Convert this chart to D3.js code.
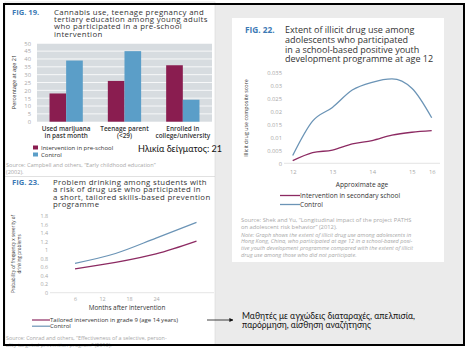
<!DOCTYPE html>
<html>
<head>
<meta charset="utf-8">
<script src="https://cdn.jsdelivr.net/npm/d3@7"></script>
<style>
  body { margin: 0; background: #fff; }
  svg text { font-family: "Open Sans", sans-serif; }
</style>
</head>
<body>
<svg id="vis" width="468" height="352"></svg>
<script>
// Fig 19 data: percentage at age 21
var fig19Categories = [["Used marijuana", "in past month"], ["Teenage parent", "(<29)"], ["Enrolled in", "college/university"]];
var fig19Series = ["Intervention in pre-school", "Control"];
var fig19Intervention = [18, 26, 36];
var fig19Control = [39, 45, 14];
var fig19Ticks = [0, 5, 10, 15, 20, 25, 30, 35, 40, 45, 50];

// Fig 22 data: illicit drug use composite score by approximate age
var fig22Points = [0, 1, 2, 3, 4, 5, 6, 7];
var fig22TickLabels = {0: "12", 2: "13", 4: "14", 6: "15", 7: "16"};
var fig22Intervention = [0.001, 0.0041, 0.0051, 0.0075, 0.0088, 0.0109, 0.012, 0.0126];
var fig22Control = [0.003, 0.0163, 0.0216, 0.0283, 0.0313, 0.0326, 0.029, 0.0176];
var fig22Ticks = [0, 0.005, 0.01, 0.015, 0.02, 0.025, 0.03, 0.035];

// Fig 23 data: probability of frequency x severity of drinking problems
var fig23Months = [6, 15, 24, 33];
var fig23TickMonths = [6, 12, 18, 24];
var fig23Intervention = [0.56, 0.71, 0.91, 1.21];
var fig23Control = [0.69, 0.92, 1.28, 1.65];
var fig23Ticks = [0, 0.2, 0.4, 0.6, 0.8, 1, 1.2, 1.4, 1.6, 1.8];

var maroon = "#8a1d50";
var blue = "#5b9ec8";
var steel = "#6b94b6";
var lineMaroon = "#8c2a62";
var figBlue = "#3d7ab5";
var lightText = "#a8a8a8";

var svg = d3.select("#vis");

// gray slide area and white panels
svg.append("rect").attr("x", 4).attr("y", 4).attr("width", 460).attr("height", 341)
  .attr("fill", "#ebebeb");
svg.append("rect").attr("x", 5).attr("y", 2).attr("width", 210).attr("height", 343)
  .attr("fill", "#fff").attr("stroke", "#d8d8d8").attr("stroke-width", 0.6);
svg.append("rect").attr("x", 232).attr("y", 18).attr("width", 212).attr("height", 244)
  .attr("fill", "#fff");

// write several lines of text
function lines(g, arr, x, y, step, attrs) {
  var t = g.append("text").attr("x", x).attr("y", y);
  Object.keys(attrs).forEach(function(k) { t.style(k, attrs[k]); });
  arr.forEach(function(s, i) {
    t.append("tspan").attr("x", x).attr("dy", i === 0 ? 0 : step).text(s);
  });
  return t;
}

// ---------- FIG 19 ----------
var g19 = svg.append("g");
g19.append("text").attr("x", 12).attr("y", 15).text("FIG. 19.")
  .style("font-size", "7.6px").style("font-weight", "bold").style("fill", figBlue);
lines(g19, ["Cannabis use, teenage pregnancy and", "tertiary education among young adults",
  "who participated in a pre-school", "intervention"], 54, 14.8, 7.3,
  {"font-size": "7.8px", "fill": "#333", "letter-spacing": "0.35px"});

var x19 = d3.scaleBand().domain(d3.range(fig19Categories.length)).range([37, 212]);
var xs19 = d3.scaleBand().domain(fig19Series).range([12.5, 45.8]);
var y19 = d3.scaleLinear().domain([0, 50]).range([121.7, 43.3]);

g19.append("rect").attr("x", 37).attr("y", y19(50)).attr("width", 175)
  .attr("height", y19(0) - y19(50)).attr("fill", "#d7dce0");
g19.selectAll(".grid19").data(fig19Ticks.slice(1)).enter().append("line")
  .attr("x1", 37).attr("x2", 212)
  .attr("y1", function(d) { return y19(d); }).attr("y2", function(d) { return y19(d); })
  .attr("stroke", "#fff").attr("stroke-width", 0.8);

var yAxis19 = g19.append("g").attr("transform", "translate(37,0)")
  .call(d3.axisLeft(y19).tickValues(fig19Ticks).tickSize(0).tickPadding(6));
yAxis19.select(".domain").remove();
yAxis19.selectAll("text").style("font-size", "5.8px").style("fill", lightText);

var bars19 = [];
fig19Categories.forEach(function(c, i) {
  bars19.push({cat: i, series: fig19Series[0], val: fig19Intervention[i], color: maroon});
  bars19.push({cat: i, series: fig19Series[1], val: fig19Control[i], color: blue});
});
g19.selectAll(".bar19").data(bars19).enter().append("rect")
  .attr("x", function(d) { return x19(d.cat) + xs19(d.series); })
  .attr("width", xs19.bandwidth())
  .attr("y", function(d) { return y19(d.val); })
  .attr("height", function(d) { return y19(0) - y19(d.val); })
  .attr("fill", function(d) { return d.color; });

fig19Categories.forEach(function(c, i) {
  var cx = x19(i) + x19.bandwidth() / 2;
  lines(g19, c, cx, 131, 6.8, {"font-size": "6.4px", "fill": "#333", "font-weight": "600", "text-anchor": "middle"});
});

g19.append("text").attr("transform", "translate(16,82) rotate(-90)")
  .attr("text-anchor", "middle").text("Percentage at age 21")
  .style("font-size", "5.6px").style("fill", "#333");

fig19Series.forEach(function(s, i) {
  g19.append("rect").attr("x", 33).attr("y", 145.5 + i * 7).attr("width", 5).attr("height", 4)
    .attr("fill", i === 0 ? maroon : blue);
  g19.append("text").attr("x", 41).attr("y", 150 + i * 7).text(s)
    .style("font-size", "6px").style("fill", "#333");
});

g19.append("text").attr("x", 138).attr("y", 151.5).text("Ηλικία δείγματος: 21")
  .attr("textLength", 84).attr("lengthAdjust", "spacingAndGlyphs")
  .style("font-family", "Lato, sans-serif").style("font-size", "9.6px").style("fill", "#111");

lines(g19, ["Source: Campbell and others, \u201cEarly childhood education\u201d", "(2002)."], 6, 167, 7,
  {"font-size": "5.6px", "fill": lightText});
g19.append("line").attr("x1", 5).attr("x2", 215).attr("y1", 176.5).attr("y2", 176.5)
  .attr("stroke", "#ccc").attr("stroke-width", 0.6);

// ---------- FIG 22 ----------
var g22 = svg.append("g");
g22.append("text").attr("x", 245).attr("y", 33).text("FIG. 22.")
  .style("font-size", "8.3px").style("font-weight", "bold").style("fill", figBlue);
lines(g22, ["Extent of illicit drug use among", "adolescents who participated",
  "in a school-based positive youth", "development programme at age 12"], 285, 33, 9.8,
  {"font-size": "9px", "fill": "#333"});

var x22 = d3.scalePoint().domain(fig22Points).range([292.7, 431.7]);
var y22 = d3.scaleLinear().domain([0, 0.035]).range([163.3, 72.7]);

var yAxis22 = g22.append("g").attr("transform", "translate(284,0)")
  .call(d3.axisLeft(y22).tickValues(fig22Ticks).tickSize(0).tickPadding(2)
    .tickFormat(function(d) { return d3.format("~g")(d); }));
yAxis22.select(".domain").remove();
yAxis22.selectAll("text").style("font-size", "5.8px").style("fill", lightText);

g22.append("line").attr("x1", 284).attr("x2", 440).attr("y1", y22(0)).attr("y2", y22(0))
  .attr("stroke", "#ddd").attr("stroke-width", 0.8);

var xAxis22 = g22.append("g").attr("transform", "translate(0," + y22(0) + ")")
  .call(d3.axisBottom(x22).tickValues(Object.keys(fig22TickLabels).map(Number)).tickSize(0).tickPadding(7)
    .tickFormat(function(d) { return fig22TickLabels[d]; }));
xAxis22.select(".domain").remove();
xAxis22.selectAll("text").style("font-size", "5.8px").style("fill", lightText);

var line22 = d3.line()
  .x(function(d, i) { return x22(fig22Points[i]); })
  .y(function(d) { return y22(d); })
  .curve(d3.curveMonotoneX);
g22.append("path").datum(fig22Control).attr("d", line22)
  .attr("fill", "none").attr("stroke", steel).attr("stroke-width", 1.3);
g22.append("path").datum(fig22Intervention).attr("d", line22)
  .attr("fill", "none").attr("stroke", lineMaroon).attr("stroke-width", 1.3);

g22.append("text").attr("transform", "translate(248,118) rotate(-90)")
  .attr("text-anchor", "middle").text("Illicit drug use composite score")
  .style("font-size", "5.4px").style("fill", "#333");
g22.append("text").attr("x", 362).attr("y", 186.5).attr("text-anchor", "middle")
  .text("Approximate age").style("font-size", "6.6px").style("fill", "#333");

[["Intervention in secondary school", lineMaroon], ["Control", steel]].forEach(function(d, i) {
  var yy = 195.5 + i * 9;
  g22.append("line").attr("x1", 280).attr("x2", 300).attr("y1", yy).attr("y2", yy)
    .attr("stroke", d[1]).attr("stroke-width", 1.3);
  g22.append("text").attr("x", 300).attr("y", yy + 2.2).text(d[0])
    .style("font-size", "6.6px").style("fill", "#333");
});

lines(g22, ["Source: Shek and Yu, \u201cLongitudinal impact of the project PATHS",
  "on adolescent risk behavior\u201d (2012)."], 241, 221.5, 7, {"font-size": "5.8px", "fill": lightText});
lines(g22, ["Note: Graph shows the extent of illicit drug use among adolescents in",
  "Hong Kong, China, who participated at age 12 in a school-based posi-",
  "tive youth development programme compared with the extent of illicit",
  "drug use among those who did not participate."], 241, 236.5, 6.8,
  {"font-size": "5.6px", "fill": lightText, "font-style": "italic"});

// ---------- FIG 23 ----------
var g23 = svg.append("g");
g23.append("text").attr("x", 12).attr("y", 185).text("FIG. 23.")
  .style("font-size", "7.6px").style("font-weight", "bold").style("fill", figBlue);
lines(g23, ["Problem drinking among students with", "a risk of drug use who participated in",
  "a short, tailored skills-based prevention", "programme"], 53, 185, 7.3,
  {"font-size": "7.8px", "fill": "#333", "letter-spacing": "0.35px"});

var x23 = d3.scaleLinear().domain([0, 36]).range([48, 210]);
var y23 = d3.scaleLinear().domain([0, 1.8]).range([292.7, 216]);

var yAxis23 = g23.append("g").attr("transform", "translate(50,0)")
  .call(d3.axisLeft(y23).tickValues(fig23Ticks).tickSize(0).tickPadding(2)
    .tickFormat(function(d) { return d3.format("~g")(d); }));
yAxis23.select(".domain").remove();
yAxis23.selectAll("text").style("font-size", "5.4px").style("fill", lightText);

g23.append("line").attr("x1", 50).attr("x2", 214).attr("y1", y23(0)).attr("y2", y23(0))
  .attr("stroke", "#ddd").attr("stroke-width", 0.8);

var xAxis23 = g23.append("g").attr("transform", "translate(0," + y23(0) + ")")
  .call(d3.axisBottom(x23).tickValues(fig23TickMonths).tickSize(0).tickPadding(4));
xAxis23.select(".domain").remove();
xAxis23.selectAll("text").style("font-size", "5.4px").style("fill", lightText);

var line23 = d3.line()
  .x(function(d, i) { return x23(fig23Months[i]); })
  .y(function(d) { return y23(d); })
  .curve(d3.curveMonotoneX);
g23.append("path").datum(fig23Control).attr("d", line23)
  .attr("fill", "none").attr("stroke", steel).attr("stroke-width", 1.2);
g23.append("path").datum(fig23Intervention).attr("d", line23)
  .attr("fill", "none").attr("stroke", lineMaroon).attr("stroke-width", 1.2);

lines(g23, ["Probability of frequency x severity of", "drinking problems"], 0, 0, 6,
  {"font-size": "4.6px", "fill": "#333", "text-anchor": "middle"})
  .attr("transform", "translate(15,254) rotate(-90)");

g23.append("text").attr("x", 127).attr("y", 310).attr("text-anchor", "middle")
  .text("Months after intervention").style("font-size", "6.4px").style("fill", "#333");

[["Tailored intervention in grade 9 (age 14 years)", lineMaroon], ["Control", steel]].forEach(function(d, i) {
  var yy = 320 + i * 6.2;
  g23.append("line").attr("x1", 32).attr("x2", 50).attr("y1", yy).attr("y2", yy)
    .attr("stroke", d[1]).attr("stroke-width", 1.2);
  g23.append("text").attr("x", 50).attr("y", yy + 2).text(d[0])
    .style("font-size", "6px").style("fill", "#333");
});

lines(g23, ["Source: Conrad and others, \u201cEffectiveness of a selective, person-",
  "ality-targeted prevention program\u201d (2013)."], 6, 340, 6.5,
  {"font-size": "5.4px", "fill": lightText});

// arrow to the note
svg.append("defs").append("marker").attr("id", "arr").attr("viewBox", "0 0 10 10")
  .attr("refX", 9).attr("refY", 5).attr("markerWidth", 5).attr("markerHeight", 5)
  .attr("orient", "auto")
  .append("path").attr("d", "M0,0L10,5L0,10z").attr("fill", "#111");
svg.append("line").attr("x1", 207).attr("x2", 233).attr("y1", 320).attr("y2", 320)
  .attr("stroke", "#111").attr("stroke-width", 0.8).attr("marker-end", "url(#arr)");

var note = lines(svg, ["Μαθητές με αγχώδεις διαταραχές, απελπισία,", "παρόρμηση, αίσθηση αναζήτησης"], 242, 318.5, 9.5,
  {"font-family": "Lato, sans-serif", "font-size": "9px", "fill": "#111"});
note.selectAll("tspan").attr("textLength", function(d, i) { return i === 0 ? 173 : 129; })
  .attr("lengthAdjust", "spacingAndGlyphs");

// frame on top
svg.append("rect").attr("x", 4).attr("y", 4).attr("width", 460).attr("height", 341)
  .attr("fill", "none").attr("stroke", "#000").attr("stroke-width", 2);
</script>
</body>
</html>
